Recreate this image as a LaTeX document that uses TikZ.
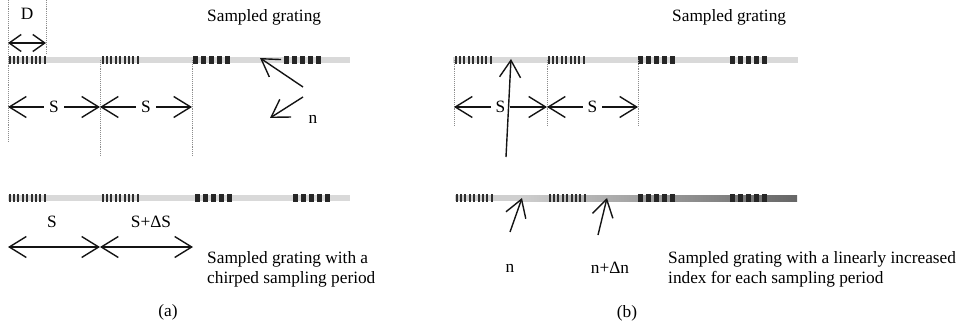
\documentclass[tikz,border=0pt]{standalone}
\usepackage{fontspec}
\setmainfont{Liberation Serif}
\usetikzlibrary{arrows.meta}
\begin{document}
\begin{tikzpicture}[x=1pt,y=-1pt,
  font=\fontsize{17.3}{20.5}\selectfont,
  >={Straight Barb[length=17pt,width=21pt]},
  lbl/.style={inner sep=0pt, text=black},
  gapl/.style={fill=white, inner sep=5pt},
  dim/.style={line width=1.4pt, draw=black!92, <->},
  ray/.style={line width=1.4pt, draw=black!92, ->},
  guide/.style={densely dotted, line width=0.9pt, draw=black!45},
  barfill/.style={fill=black!15},
  finegrp/.pic={\foreach \i in {0,...,8}
      \fill[black!82] (0.5+\i*4.4,-3.8) rectangle ++(2.0,7.6);},
  coarsegrp/.pic={\foreach \i in {0,...,4}
      \fill[black!85] (\i*8,-3.8) rectangle ++(4.8,7.6);}
]
\useasboundingbox (0,0) rectangle (958,329);

% ---------------- (a) sampled grating ----------------
\fill[barfill] (8,57) rectangle (350,63);
\pic at (8,60) {finegrp};
\pic at (101,60) {finegrp};
\pic at (193,60) {coarsegrp};
\pic at (284,60) {coarsegrp};

\coordinate (aL0) at (8,0);    \coordinate (aL1) at (8,142);
\coordinate (aD0) at (46,0);   \coordinate (aD1) at (46,55);
\coordinate (aM0) at (100,60); \coordinate (aM1) at (100,156);
\coordinate (aR0) at (192,60); \coordinate (aR1) at (192,156);
\draw[guide] (aL0) -- (aL1);
\draw[guide] (aD0) -- (aD1);
\draw[guide] (aM0) -- (aM1);
\draw[guide] (aR0) -- (aR1);

\node[lbl] (dlab) at (27,14) {D};
\coordinate (dA) at (8,43); \coordinate (dB) at (46,43);
\draw[line width=1.4pt, draw=black!92,
  {Straight Barb[length=12pt,width=17pt]}-{Straight Barb[length=12pt,width=17pt]}] (dA) -- (dB);

\coordinate (aS0) at (8,107); \coordinate (aS1) at (100,107); \coordinate (aS2) at (192,107);
\draw[dim] (aS0) -- node[gapl] (as1) {S} (aS1);
\draw[dim] (aS1) -- node[gapl] (as2) {S} (aS2);

\node[lbl] (anlab) at (313,119) {n};
\coordinate (an1t) at (303,87); \coordinate (an1h) at (260,58);
\coordinate (an2t) at (303,97); \coordinate (an2h) at (270,118);
\draw[ray] (an1t) -- (an1h);
\draw[ray] (an2t) -- (an2h);

\node[lbl, anchor=west] (atitle) at (207,17) {Sampled grating};

% chirped sampling period
\fill[barfill] (8,195) rectangle (350,201);
\pic at (8,198) {finegrp};
\pic at (101,198) {finegrp};
\pic at (195,198) {coarsegrp};
\pic at (293,198) {coarsegrp};

\node[lbl] (acs) at (52,222) {S};
\node[lbl] (acds) at (151,222) {S+ΔS};
\coordinate (aC0) at (8,247); \coordinate (aC1) at (100,247); \coordinate (aC2) at (193,247);
\draw[dim] (aC0) -- (aC1);
\draw[dim] (aC1) -- (aC2);

\node[lbl, anchor=north west, align=left] (acap) at (207,251)
  {Sampled grating with a\\chirped sampling period};
\node[lbl] (atag) at (168,312) {(a)};

% ---------------- (b) sampled grating ----------------
\fill[barfill] (453,57) rectangle (798,63);
\pic at (454,60) {finegrp};
\pic at (547,60) {finegrp};
\pic at (638,60) {coarsegrp};
\pic at (730,60) {coarsegrp};

\coordinate (bL0) at (454,60); \coordinate (bL1) at (454,126);
\coordinate (bM0) at (547,60); \coordinate (bM1) at (547,126);
\coordinate (bR0) at (638,60); \coordinate (bR1) at (638,126);
\draw[guide] (bL0) -- (bL1);
\draw[guide] (bM0) -- (bM1);
\draw[guide] (bR0) -- (bR1);

\coordinate (bS0) at (454,107); \coordinate (bS1) at (547,107); \coordinate (bS2) at (638,107);
\draw[dim] (bS0) -- node[gapl] (bs1) {S} (bS1);
\draw[dim] (bS1) -- node[gapl] (bs2) {S} (bS2);

\coordinate (bnt) at (506,157); \coordinate (bnh) at (511,59);
\draw[ray] (bnt) -- (bnh);

\node[lbl, anchor=west] (btitle) at (672,17) {Sampled grating};

% linearly increasing index
\fill[fill=black!19] (455,195) rectangle (520,201);
\shade[left color=black!19, right color=black!60] (520,195) rectangle (797,201);
\pic at (455,198) {finegrp};
\pic at (548,198) {finegrp};
\pic at (638,198) {coarsegrp};
\pic at (730,198) {coarsegrp};

\coordinate (bi1t) at (510,232); \coordinate (bi1h) at (522,198);
\coordinate (bi2t) at (598,235); \coordinate (bi2h) at (607,198);
\draw[ray] (bi1t) -- (bi1h);
\draw[ray] (bi2t) -- (bi2h);
\node[lbl] (bn) at (510,268) {n};
\node[lbl] (bdn) at (610,268) {n+Δn};

\node[lbl, anchor=north west, align=left] (bcap) at (668,251)
  {Sampled grating with a linearly increased\\index for each sampling period};
\node[lbl] (btag) at (627,313) {(b)};
\end{tikzpicture}
\end{document}
